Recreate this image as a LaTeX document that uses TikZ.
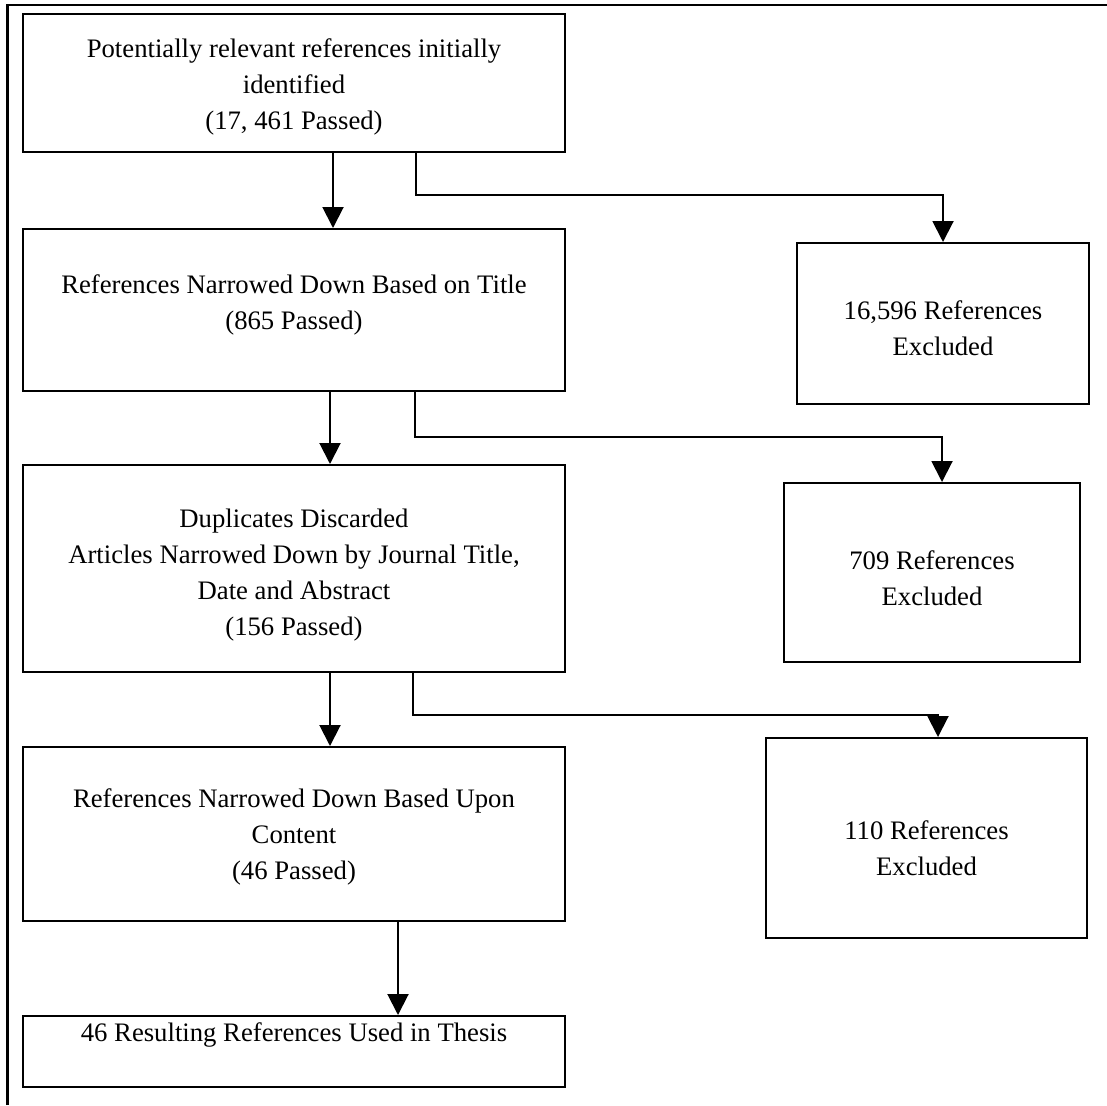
\documentclass[tikz,border=0pt]{standalone}
\usepackage{fontspec}
\setmainfont{Liberation Serif}
\usetikzlibrary{arrows.meta}
\tikzset{
  box/.style={draw, line width=2pt, rectangle, inner sep=0pt},
  lbl/.style={align=center, inner sep=0pt, font=\fontsize{26.7}{36}\selectfont},
  arr/.style={line width=2pt, -{Triangle[length=21pt,width=21pt]}},
  frame/.style={line width=2.5pt}
}
\begin{document}
\begin{tikzpicture}[x=1pt,y=-1pt]
\useasboundingbox (0,0) rectangle (1107,1105);
% outer frame (left and top edges)
\coordinate (fbl) at (7.5,1105);
\coordinate (ftl) at (7.5,5);
\coordinate (ftr) at (1107,5);
\draw[frame] (fbl) -- (ftl) -- (ftr);

% main column
\node[box, minimum width=542pt, minimum height=138pt,
  label={[lbl, yshift=-3.5pt]center:{Potentially relevant references initially\\identified\\(17, 461 Passed)}}]
  (b1) at (294,83) {};
\node[box, minimum width=542pt, minimum height=162pt,
  label={[lbl, yshift=5pt]center:{References Narrowed Down Based on Title\\(865 Passed)}}]
  (b2) at (294,310) {};
\node[box, minimum width=542pt, minimum height=207pt,
  label={[lbl, yshift=-6.5pt]center:{Duplicates Discarded\\Articles Narrowed Down by Journal Title,\\Date and Abstract\\(156 Passed)}}]
  (b3) at (294,568.5) {};
\node[box, minimum width=542pt, minimum height=174pt,
  label={[lbl, yshift=-3pt]center:{References Narrowed Down Based Upon\\Content\\(46 Passed)}}]
  (b4) at (294,834) {};
\node[box, minimum width=542pt, minimum height=71pt,
  label={[lbl, yshift=1pt]center:{46 Resulting References Used in Thesis\\\mbox{}}}]
  (b5) at (294,1051.5) {};

% exclusion column
\node[box, minimum width=292pt, minimum height=161pt,
  label={[lbl, yshift=-4.5pt]center:{16,596 References\\Excluded}}]
  (r1) at (943,323.5) {};
\node[box, minimum width=296pt, minimum height=179pt,
  label={[lbl, yshift=-5.5pt]center:{709 References\\Excluded}}]
  (r2) at (932,572.5) {};
\node[box, minimum width=321pt, minimum height=200pt,
  label={[lbl, yshift=-10pt]center:{110 References\\Excluded}}]
  (r3) at (926.5,838) {};

% connector positions
\coordinate (m1) at (333,0);
\coordinate (m2) at (330,0);
\coordinate (m3) at (330,0);
\coordinate (m4) at (398,0);
\coordinate (s1) at (416,195);
\coordinate (s2) at (415,437);
\coordinate (s3) at (413,715);
\coordinate (e1) at (943,0);
\coordinate (e2) at (942,0);
\coordinate (e3) at (938,0);

% straight arrows down the main column
\draw[arr] (b1.south -| m1) -- (b2.north -| m1);
\draw[arr] (b2.south -| m2) -- (b3.north -| m2);
\draw[arr] (b3.south -| m3) -- (b4.north -| m3);
\draw[arr] (b4.south -| m4) -- (b5.north -| m4);

% branches to the exclusion boxes
\draw[arr] (b1.south -| s1) -- (s1) -- (s1 -| e1) -- (r1.north -| e1);
\draw[arr] (b2.south -| s2) -- (s2) -- (s2 -| e2) -- (r2.north -| e2);
\draw[arr] (b3.south -| s3) -- (s3) -- (s3 -| e3) -- (r3.north -| e3);
\end{tikzpicture}
\end{document}
